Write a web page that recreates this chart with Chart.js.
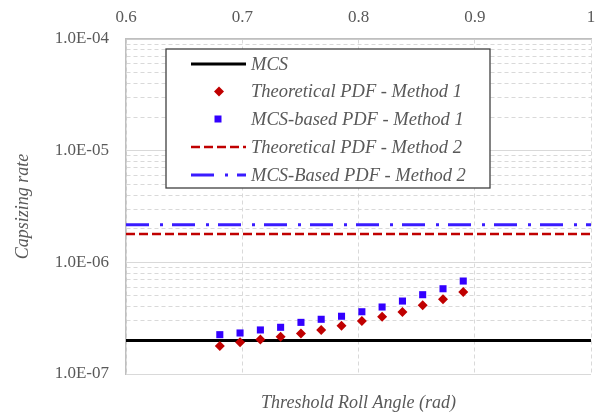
<!DOCTYPE html>
<html>
<head>
<meta charset="utf-8">
<script src="https://cdn.jsdelivr.net/npm/chart.js@4/dist/chart.umd.min.js"></script>
<style>
  body { margin: 0; background: #fff; }
  #wrap { width: 597px; height: 414px; }
</style>
</head>
<body>
<div id="wrap"><canvas id="graph"></canvas></div>
<script>
// threshold roll angles (rad), 39..51 deg
var angles = [0.6807, 0.6981, 0.7156, 0.7330, 0.7505, 0.7679, 0.7854, 0.8029, 0.8203, 0.8378, 0.8552, 0.8727, 0.8901];
var theoMethod1 = [1.78e-7, 1.92e-7, 2.04e-7, 2.16e-7, 2.31e-7, 2.48e-7, 2.71e-7, 2.98e-7, 3.26e-7, 3.59e-7, 4.12e-7, 4.67e-7, 5.42e-7];
var mcsMethod1 = [2.25e-7, 2.33e-7, 2.48e-7, 2.62e-7, 2.90e-7, 3.09e-7, 3.29e-7, 3.61e-7, 3.98e-7, 4.50e-7, 5.13e-7, 5.80e-7, 6.80e-7];
var mcsRate = 2.0e-7;
var theoMethod2 = 1.79e-6;
var mcsMethod2 = 2.17e-6;

var xRange = [0.6, 1.0];
var xTicks = [0.6, 0.7, 0.8, 0.9, 1.0];
var xTickLabels = ['0.6', '0.7', '0.8', '0.9', '1'];
var yDecades = [1e-7, 1e-6, 1e-5, 1e-4];
var yTickLabels = ['1.0E-07', '1.0E-06', '1.0E-05', '1.0E-04'];

var labels = ['MCS', 'Theoretical PDF - Method 1', 'MCS-based PDF - Method 1',
  'Theoretical PDF - Method 2', 'MCS-Based PDF - Method 2'];

var grey = '#595959';
var serif = "'Liberation Serif', 'Times New Roman', serif";

function pts(xs, ys) {
  var out = [];
  for (var k = 0; k < xs.length; k++) out.push({x: xs[k], y: ys[k]});
  return out;
}
function flat(v) {
  return [{x: xRange[0], y: v}, {x: xRange[1], y: v}];
}
function isDecade(v) {
  for (var k = 0; k < yDecades.length; k++) {
    if (Math.abs(v / yDecades[k] - 1) < 1e-6) return k;
  }
  return -1;
}

// legend drawn inside the plot, with a box like the original
const boxLegend = {
  id: 'boxLegend',
  afterDraw(chart) {
    const ctx = chart.ctx;
    const x0 = 166, y0 = 49, w = 324, h = 139;
    ctx.save();
    ctx.fillStyle = '#fff';
    ctx.fillRect(x0, y0, w, h);
    ctx.strokeStyle = '#404040';
    ctx.lineWidth = 1.3;
    ctx.strokeRect(x0, y0, w, h);
    const rows = [64, 91.5, 119, 147, 175];
    const sx1 = 191, sx2 = 246, tx = 251;
    chart.data.datasets.forEach((ds, n) => {
      const y = rows[n];
      if (ds.showLine === false) {
        ctx.fillStyle = ds.backgroundColor;
        ctx.beginPath();
        if (ds.pointStyle === 'rectRot') {
          ctx.moveTo(219, y - 5); ctx.lineTo(224, y); ctx.lineTo(219, y + 5); ctx.lineTo(214, y);
        } else {
          ctx.rect(214.5, y - 3.5, 7, 7);
        }
        ctx.closePath();
        ctx.fill();
      } else {
        ctx.strokeStyle = ds.borderColor;
        ctx.lineWidth = ds.borderWidth;
        ctx.setLineDash(ds.borderDash || []);
        ctx.beginPath();
        ctx.moveTo(sx1, y); ctx.lineTo(sx2, y);
        ctx.stroke();
        ctx.setLineDash([]);
      }
      ctx.fillStyle = grey;
      ctx.font = 'italic 18.5px ' + serif;
      ctx.textBaseline = 'middle';
      ctx.fillText(ds.label, tx, y + 1);
    });
    ctx.restore();
  }
};

var graph = document.getElementById('graph').getContext('2d');
var myChart = new Chart(graph, {
  type: 'scatter',
  data: {
    datasets: [{
      label: labels[0],
      data: flat(mcsRate),
      showLine: true,
      borderColor: '#000000',
      borderWidth: 3,
      pointRadius: 0,
      order: 5
    }, {
      label: labels[1],
      data: pts(angles, theoMethod1),
      showLine: false,
      pointStyle: 'rectRot',
      pointRadius: 5,
      borderWidth: 0,
      backgroundColor: '#C00000',
      borderColor: '#C00000',
      order: 1
    }, {
      label: labels[2],
      data: pts(angles, mcsMethod1),
      showLine: false,
      pointStyle: 'rect',
      pointRadius: 5,
      borderWidth: 0,
      backgroundColor: '#3300FF',
      borderColor: '#3300FF',
      order: 1
    }, {
      label: labels[3],
      data: flat(theoMethod2),
      showLine: true,
      borderColor: '#C00000',
      borderWidth: 2.5,
      borderDash: [9, 4],
      pointRadius: 0,
      order: 4
    }, {
      label: labels[4],
      data: flat(mcsMethod2),
      showLine: true,
      borderColor: '#3A1CFF',
      borderWidth: 3,
      borderDash: [23, 11, 3, 9],
      pointRadius: 0,
      order: 4
    }]
  },
  options: {
    responsive: true,
    maintainAspectRatio: false,
    animation: false,
    layout: { padding: { left: 0, right: 6, top: 0, bottom: 0 } },
    scales: {
      x: {
        type: 'linear',
        position: 'top',
        min: xRange[0],
        max: xRange[1],
        afterBuildTicks: (s) => { s.ticks = xTicks.map(v => ({value: v})); },
        afterFit: (s) => { s.height = 39; s.paddingLeft = 0; s.paddingRight = 0; },
        ticks: {
          padding: 11,
          color: grey,
          font: { family: serif, size: 17 },
          callback: (v) => {
            var k = xTicks.findIndex(t => Math.abs(t - v) < 1e-9);
            return k >= 0 ? xTickLabels[k] : '';
          }
        },
        grid: { color: '#d9d9d9', lineWidth: 1, drawTicks: false },
        border: { display: true, color: '#bfbfbf', width: 1.5, dash: (c) => c.tick ? [4, 3] : [] }
      },
      // bottom axis carries only the title
      x2: {
        type: 'linear',
        position: 'bottom',
        min: xRange[0],
        max: xRange[1],
        afterFit: (s) => { s.height = 40; s.paddingLeft = 0; s.paddingRight = 0; },
        ticks: { display: false },
        grid: { display: false, drawTicks: false },
        border: { display: false },
        title: {
          display: true,
          text: 'Threshold Roll Angle (rad)',
          color: grey,
          font: { family: serif, size: 18, style: 'italic' },
          padding: { top: 0, bottom: 0 }
        }
      },
      y: {
        type: 'logarithmic',
        min: yDecades[0],
        max: yDecades[yDecades.length - 1],
        afterBuildTicks: (s) => {
          var t = [];
          for (var k = 0; k < yDecades.length; k++) {
            t.push({value: yDecades[k], major: true});
            if (k < yDecades.length - 1) {
              for (var m = 2; m <= 9; m++) t.push({value: m * yDecades[k]});
            }
          }
          s.ticks = t;
        },
        afterFit: (s) => { s.width = 126; },
        ticks: {
          autoSkip: false,
          padding: 17,
          color: grey,
          font: { family: serif, size: 17 },
          callback: (v) => {
            var k = isDecade(v);
            return k >= 0 ? yTickLabels[k] : '';
          }
        },
        grid: { color: '#d9d9d9', lineWidth: 1, drawTicks: false },
        border: {
          display: true, color: '#bfbfbf', width: 1.5,
          dash: (c) => (c.tick && isDecade(c.tick.value) < 0) ? [4, 3] : []
        },
        title: {
          display: true,
          text: 'Capsizing rate',
          color: grey,
          font: { family: serif, size: 18, style: 'italic' },
          padding: { top: 12, bottom: 0 }
        }
      }
    },
    plugins: {
      legend: { display: false },
      tooltip: { enabled: false }
    }
  },
  plugins: [boxLegend]
});
</script>
</body>
</html>
